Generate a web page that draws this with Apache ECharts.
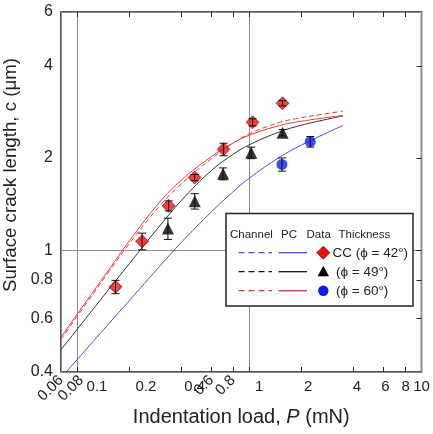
<!DOCTYPE html>
<html><head><meta charset="utf-8">
<script src="https://cdn.jsdelivr.net/npm/echarts@6/dist/echarts.min.js"></script>
<style>html,body{margin:0;padding:0;background:#fff}#c{width:433px;height:434px}</style>
</head><body><div id="c"></div>
<script>
// ---- axis ticks / labels ----
const loadTicks = [0.1, 0.2, 0.4, 0.6, 0.8, 1, 2, 4, 6, 8];
const loadLabelsFlat = [0.1, 0.2, 0.4, 1, 2, 4, 6, 8, 10];
const loadLabelTiltedA = [0.06];
const loadLabelTiltedB = [0.08];
const loadLabelsTiltedInner = [0.6, 0.8];
const crackTicks = [0.6, 0.8, 1, 2, 4];
const crackLabels = [0.4, 0.6, 0.8, 1, 2, 4, 6];

// ---- model curves ----
const curveLoads = [0.08, 0.1, 0.15, 0.2, 0.3, 0.4, 0.6, 0.8, 1, 1.5, 2, 3, 3.5];
const curve42 = [0.383, 0.441, 0.571, 0.685, 0.886, 1.059, 1.335, 1.550, 1.721, 2.016, 2.204, 2.458, 2.554];
const curve49 = [0.473, 0.554, 0.739, 0.904, 1.200, 1.451, 1.821, 2.055, 2.212, 2.438, 2.560, 2.698, 2.745];
const curve60 = [0.519, 0.621, 0.855, 1.073, 1.436, 1.692, 2.023, 2.238, 2.377, 2.556, 2.638, 2.725, 2.755];
const curve60Channel = [0.511, 0.611, 0.842, 1.051, 1.396, 1.645, 1.990, 2.234, 2.403, 2.617, 2.709, 2.810, 2.846];

// ---- measured data ----
const ccLoad = [0.166, 0.237, 0.338, 0.479, 0.706, 1.041, 1.555];
const ccCrack = [0.759, 1.070, 1.396, 1.727, 2.135, 2.617, 3.020];
const ccErr = [0.038, 0.067, 0.053, 0.040, 0.100, 0.070, 0.060];
const triLoad = [0.335, 0.480, 0.701, 1.023, 1.555];
const triCrack = [1.178, 1.446, 1.777, 2.081, 2.420];
const triErr = [0.094, 0.084, 0.080, 0.090, 0.060];
const cirLoad = [1.543, 2.254];
const cirCrack = [1.907, 2.262];
const cirErr = [0.095, 0.090];

const FONT = '"Liberation Sans", Arial, sans-serif';
const pair = (xs, ys) => xs.map((x, i) => [x, ys[i]]);
const errRows = (xs, ys, es) => xs.map((x, i) => [x, ys[i] - es[i], ys[i] + es[i]]);

function errRender(params, api) {
  const x = api.value(0), lo = api.value(1), hi = api.value(2);
  const a = api.coord([x, hi]), b = api.coord([x, lo]);
  const w = 4;
  const st = { stroke: '#111', lineWidth: 1 };
  return { type: 'group', children: [
    { type: 'line', shape: { x1: a[0], y1: a[1], x2: b[0], y2: b[1] }, style: st },
    { type: 'line', shape: { x1: a[0] - w, y1: a[1], x2: a[0] + w, y2: a[1] }, style: st },
    { type: 'line', shape: { x1: b[0] - w, y1: b[1], x2: b[0] + w, y2: b[1] }, style: st }
  ]};
}

const lineSeries = (name, ys, color, dash) => ({
  name, type: 'line', xAxisIndex: 0, yAxisIndex: 0, smooth: 0.4, symbol: 'none',
  data: pair(curveLoads, ys), lineStyle: { color, width: 1, type: dash ? [5, 3] : 'solid' }, z: 2,
  silent: true, animation: false
});

const Lx = 226, Ly = 213.5;
const rowY = [252.7, 271.7, 290.7];
const rowColors = ['#4b4bef', '#111', '#ee3030'];
const legendEls = [
  { type: 'rect', z: 100, shape: { x: Lx, y: Ly, width: 187, height: 92.5 }, style: { fill: '#fff', stroke: '#222', lineWidth: 1.5 } },
  { type: 'text', z: 101, x: 230, y: 235, style: { text: 'Channel', font: '11.5px ' + FONT, fill: '#222', verticalAlign: 'middle' } },
  { type: 'text', z: 101, x: 281, y: 235, style: { text: 'PC', font: '11.5px ' + FONT, fill: '#222', verticalAlign: 'middle' } },
  { type: 'text', z: 101, x: 306.5, y: 235, style: { text: 'Data', font: '11.5px ' + FONT, fill: '#222', verticalAlign: 'middle' } },
  { type: 'text', z: 101, x: 338.5, y: 235, style: { text: 'Thickness', font: '11.5px ' + FONT, fill: '#222', verticalAlign: 'middle' } }
];
rowY.forEach((y, i) => {
  legendEls.push({ type: 'line', z: 101, shape: { x1: 238.5, y1: y, x2: 272, y2: y }, style: { stroke: rowColors[i], lineWidth: 1.3, lineDash: [6, 4] } });
  legendEls.push({ type: 'line', z: 101, shape: { x1: 278.5, y1: y, x2: 307, y2: y }, style: { stroke: rowColors[i], lineWidth: 1.3 } });
});
legendEls.push({ type: 'polygon', z: 101, shape: { points: [[323.3, 246.2], [329.8, 252.7], [323.3, 259.2], [316.8, 252.7]] }, style: { fill: '#e51212', stroke: '#7a0000', lineWidth: 0.8 } });
legendEls.push({ type: 'polygon', z: 101, shape: { points: [[323.3, 265.7], [329, 276.2], [317.6, 276.2]] }, style: { fill: '#000' } });
legendEls.push({ type: 'circle', z: 101, shape: { cx: 323.3, cy: 290.7, r: 5.2 }, style: { fill: '#0f1fe0' } });
legendEls.push({ type: 'text', z: 101, x: 332.5, y: 253, style: { text: 'CC (\u03d5 = 42°)', font: '13.5px ' + FONT, fill: '#222', verticalAlign: 'middle' } });
legendEls.push({ type: 'text', z: 101, x: 336, y: 272, style: { text: '(\u03d5 = 49°)', font: '13.5px ' + FONT, fill: '#222', verticalAlign: 'middle' } });
legendEls.push({ type: 'text', z: 101, x: 336, y: 291, style: { text: '(\u03d5 = 60°)', font: '13.5px ' + FONT, fill: '#222', verticalAlign: 'middle' } });

const hidden = { show: false };
const labelAxis = (values, rotate) => ({
  type: 'log', min: 0.06, max: 10, position: 'bottom',
  axisLine: { show: false, onZero: false }, axisTick: hidden, splitLine: hidden,
  axisLabel: { show: true, rotate, margin: rotate ? 6 : 7, interval: 0, hideOverlap: false, customValues: values,
    color: '#222', fontSize: 15, fontFamily: FONT, showMinLabel: true, showMaxLabel: true }
});
const option = {
  animation: false,
  backgroundColor: '#fff',
  grid: { left: 61, right: 11.5, top: 12, bottom: 62, show: true, borderColor: '#222', borderWidth: 1.5, backgroundColor: 'transparent', containLabel: false, outerBoundsMode: 'none' },
  xAxis: [
    { type: 'log', min: 0.08, max: 10, position: 'bottom',
      axisLine: { show: false, onZero: false },
      axisTick: { show: true, inside: true, length: 5, customValues: loadTicks, lineStyle: { color: '#222' } },
      axisLabel: { show: true, rotate: 45, margin: 6, interval: 0, hideOverlap: false, customValues: loadLabelsTiltedInner, color: '#222', fontSize: 15, fontFamily: FONT },
      splitLine: hidden,
      name: '{a|Indentation load, }{i|P}{a| (mN)}', nameLocation: 'middle', nameGap: 35,
      nameTextStyle: { rich: { a: { fontSize: 20, fontFamily: FONT, color: '#222' }, i: { fontSize: 20, fontFamily: FONT, fontStyle: 'italic', color: '#222' } } }
    },
    labelAxis(loadLabelsFlat, 0),
    labelAxis(loadLabelTiltedA, 45),
    labelAxis(loadLabelTiltedB, 45),
    { type: 'log', min: 0.08, max: 10, position: 'top',
      axisLine: { show: false, onZero: false },
      axisTick: { show: true, inside: true, length: 5, customValues: loadTicks, lineStyle: { color: '#222' } },
      axisLabel: hidden, splitLine: hidden
    },
    { type: 'log', min: 0.08, max: 10, position: 'top',
      axisLine: { show: false, onZero: false }, axisTick: hidden, axisLabel: hidden,
      splitLine: { show: true, lineStyle: { color: '#8c8c8c', width: 1 } }
    }
  ],
  yAxis: [
    { type: 'log', min: 0.4, max: 6, position: 'left',
      axisLine: { show: false, onZero: false }, axisTick: hidden,
      axisLabel: { show: true, margin: 8, interval: 0, customValues: crackLabels, color: '#222', fontSize: 16, fontFamily: FONT, showMinLabel: true, showMaxLabel: true },
      splitLine: { show: true, lineStyle: { color: '#8c8c8c', width: 1 } },
      name: 'Surface crack length, c (\u03bcm)', nameLocation: 'middle', nameGap: 35,
      nameTextStyle: { fontSize: 18.7, fontFamily: FONT, color: '#222', padding: [0, 0, 0, 34] }
    },
    { type: 'log', min: 0.4, max: 6, position: 'right',
      axisLine: { show: false, onZero: false },
      axisTick: { show: true, inside: true, length: 5, customValues: crackTicks, lineStyle: { color: '#222' } },
      axisLabel: hidden, splitLine: hidden
    }
  ],
  series: [
    lineSeries('blue', curve42, '#4b4bef', false),
    lineSeries('black', curve49, '#333', false),
    lineSeries('red', curve60, '#ee3b3b', false),
    lineSeries('red channel', curve60Channel, '#ee3b3b', true),
    { type: 'scatter', xAxisIndex: 0, yAxisIndex: 0, symbol: 'diamond', symbolSize: 13, data: pair(ccLoad, ccCrack),
      itemStyle: { color: '#e51212', borderColor: '#7a0000', borderWidth: 0.8 }, z: 3 },
    { type: 'scatter', xAxisIndex: 0, yAxisIndex: 0, symbol: 'triangle', symbolSize: 12, data: pair(triLoad, triCrack),
      itemStyle: { color: '#000' }, z: 3 },
    { type: 'scatter', xAxisIndex: 0, yAxisIndex: 0, symbol: 'circle', symbolSize: 11, data: pair(cirLoad, cirCrack),
      itemStyle: { color: '#0f1fe0' }, z: 3 },
    { type: 'custom', xAxisIndex: 0, yAxisIndex: 0, renderItem: errRender, encode: { x: 0, y: [1, 2] },
      data: errRows(ccLoad, ccCrack, ccErr).concat(errRows(triLoad, triCrack, triErr), errRows(cirLoad, cirCrack, cirErr)), z: 4 }
  ],
  graphic: { elements: legendEls }
};
const chart = echarts.init(document.getElementById('c'), null, { renderer: 'canvas' });
chart.setOption(option);
</script></body></html>
